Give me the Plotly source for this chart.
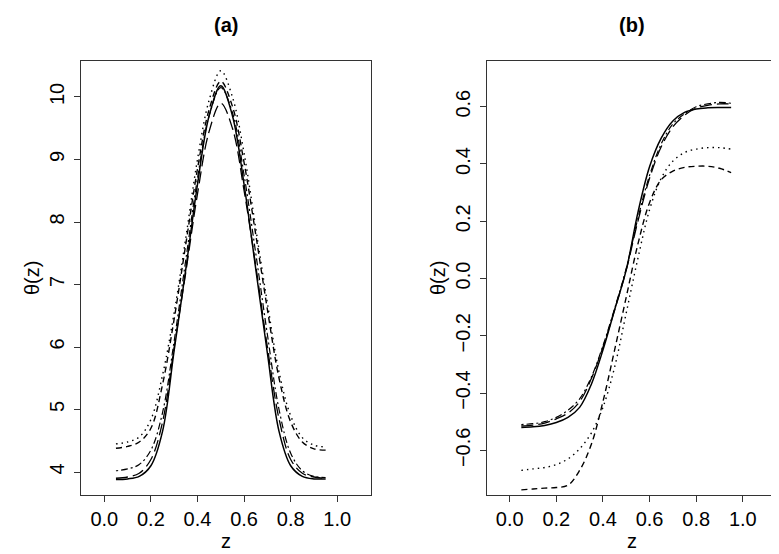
import plotly.graph_objects as go

# ---- data ----
z = [0.05, 0.10, 0.15, 0.20, 0.25, 0.30, 0.35, 0.40, 0.45, 0.50,
     0.55, 0.60, 0.65, 0.70, 0.75, 0.80, 0.85, 0.90, 0.95]

# panel (a)
a_true = [3.88, 3.89, 3.93, 4.10, 4.65, 5.95, 7.25, 8.60, 9.70, 10.18,
          9.70, 8.60, 7.25, 5.90, 4.65, 4.10, 3.93, 3.89, 3.89]
a_longdash = [3.90, 3.92, 3.98, 4.20, 4.80, 6.00, 7.20, 8.45, 9.45, 9.90,
              9.50, 8.50, 7.30, 6.00, 4.85, 4.20, 3.98, 3.92, 3.90]
a_dotdash = [4.02, 4.05, 4.12, 4.35, 4.95, 6.10, 7.40, 8.70, 9.70, 10.15,
             9.75, 8.75, 7.50, 6.20, 5.00, 4.30, 4.02, 3.93, 3.91]
a_dotted = [4.45, 4.48, 4.56, 4.84, 5.55, 6.55, 7.75, 9.00, 9.95, 10.42,
            10.00, 9.10, 7.90, 6.70, 5.60, 4.90, 4.55, 4.43, 4.40]
a_dashed = [4.38, 4.41, 4.48, 4.70, 5.40, 6.45, 7.65, 8.85, 9.80, 10.25,
            9.85, 8.95, 7.80, 6.60, 5.50, 4.80, 4.48, 4.37, 4.35]

# panel (b)
b_true = [-0.520, -0.518, -0.513, -0.503, -0.485, -0.450, -0.370, -0.250, -0.110, 0.030,
          0.230, 0.390, 0.490, 0.550, 0.580, 0.592, 0.596, 0.597, 0.597]
b_longdash = [-0.515, -0.512, -0.505, -0.490, -0.470, -0.430, -0.350, -0.240, -0.110, 0.030,
              0.200, 0.350, 0.460, 0.530, 0.570, 0.595, 0.605, 0.610, 0.610]
b_dotdash = [-0.510, -0.507, -0.500, -0.485, -0.460, -0.420, -0.345, -0.235, -0.105, 0.035,
             0.210, 0.360, 0.470, 0.540, 0.575, 0.600, 0.610, 0.615, 0.612]
b_dotted = [-0.670, -0.665, -0.660, -0.650, -0.630, -0.595, -0.540, -0.450, -0.310, -0.120,
            0.070, 0.240, 0.350, 0.410, 0.440, 0.452, 0.457, 0.457, 0.452]
b_dashed = [-0.738, -0.735, -0.732, -0.730, -0.722, -0.670, -0.580, -0.430, -0.250, -0.065,
            0.120, 0.265, 0.345, 0.375, 0.388, 0.392, 0.392, 0.385, 0.370]

x_ticks = [0.0, 0.2, 0.4, 0.6, 0.8, 1.0]
a_yticks = [4, 5, 6, 7, 8, 9, 10]
b_yticks = [-0.6, -0.4, -0.2, 0.0, 0.2, 0.4, 0.6]
panel_titles = ["(a)", "(b)"]

# ---- styling ----
W, H = 779, 554
FONT = "Liberation Sans, Arial, Helvetica, sans-serif"
styles = [
    ("solid", 1.5),
    ("12px,5px", 1.3),          # long dash
    ("2px,3px,7px,3px", 1.2),   # dot-dash
    ("1.5px,4px", 1.4),         # dotted
    ("6px,4px", 1.4),           # dashed
]

fig = go.Figure()
series_a = [a_true, a_longdash, a_dotdash, a_dotted, a_dashed]
series_b = [b_true, b_longdash, b_dotdash, b_dotted, b_dashed]
for ys, (dash, w) in zip(series_a, styles):
    fig.add_trace(go.Scatter(x=z, y=ys, mode="lines", xaxis="x", yaxis="y",
                             line=dict(color="black", width=w, dash=dash, shape="spline"),
                             showlegend=False, hoverinfo="skip"))
for ys, (dash, w) in zip(series_b, styles):
    fig.add_trace(go.Scatter(x=z, y=ys, mode="lines", xaxis="x2", yaxis="y2",
                             line=dict(color="black", width=w, dash=dash, shape="spline"),
                             showlegend=False, hoverinfo="skip"))

def px_x(p):
    return p / W

def px_y(p):
    return 1 - p / H

ax_common = dict(showgrid=False, zeroline=False, showline=True, mirror=True,
                 linecolor="#333333", linewidth=1.4, ticks="outside", ticklen=6,
                 tickwidth=1.2, tickcolor="#333333",
                 tickfont=dict(family=FONT, size=20, color="black"))

ydom = [px_y(486.7), px_y(53.3)]
fig.update_layout(
    width=W, height=H,
    margin=dict(l=0, r=0, t=0, b=0, autoexpand=False),
    paper_bgcolor="white", plot_bgcolor="white",
    xaxis=dict(domain=[px_x(73.3), px_x(363.3)], range=[-0.0987, 1.146],
               tickvals=x_ticks, tickformat=".1f", anchor="y", **ax_common),
    yaxis=dict(domain=ydom, range=[3.637, 10.571], tickvals=a_yticks,
               tickangle=-90, ticklabelstandoff=2, anchor="x", **ax_common),
    xaxis2=dict(domain=[px_x(479.3), px_x(769.3)], range=[-0.096, 1.148],
                tickvals=x_ticks, tickformat=".1f", anchor="y2", **ax_common),
    yaxis2=dict(domain=ydom, range=[-0.755, 0.7586], tickvals=b_yticks,
                tickformat=".1f", tickangle=-90, ticklabelstandoff=2, anchor="x2", **ax_common),
)

ann = []
for t, cx in zip(panel_titles, [218.3, 624.3]):
    ann.append(dict(text="<b>%s</b>" % t, x=px_x(cx), y=px_y(17), xref="paper", yref="paper",
                    showarrow=False, xanchor="center", yanchor="middle",
                    font=dict(family=FONT, size=20, color="black")))
for cx in [218.3, 624.3]:
    ann.append(dict(text="z", x=px_x(cx), y=px_y(533), xref="paper", yref="paper",
                    showarrow=False, xanchor="center", yanchor="middle",
                    font=dict(family=FONT, size=20, color="black")))
for cx in [24, 430]:
    ann.append(dict(text="θ(z)", x=px_x(cx), y=px_y(270), xref="paper", yref="paper",
                    showarrow=False, xanchor="center", yanchor="middle", textangle=-90,
                    font=dict(family=FONT, size=20, color="black")))
fig.update_layout(annotations=ann)

fig.write_html("out.html")
